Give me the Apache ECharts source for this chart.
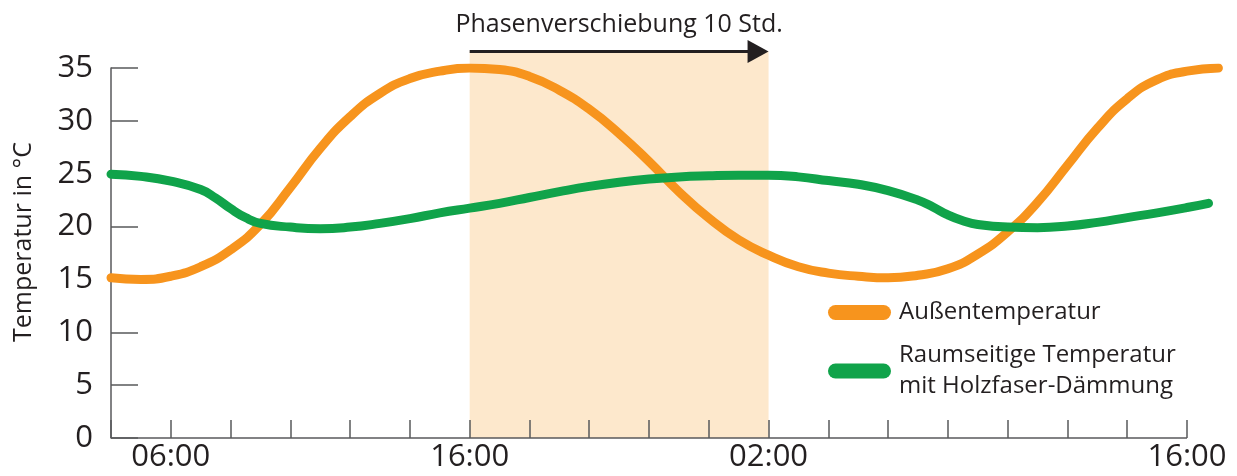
<!DOCTYPE html>
<html><head><meta charset="utf-8">
<script src="https://cdn.jsdelivr.net/npm/echarts@6/dist/echarts.min.js"></script>
<style>html,body{margin:0;padding:0;background:#fff}#c{width:1237px;height:476px}</style>
</head><body><div id="c"></div>
<script>
// hours since 04:00 of day 1
const hoursOut = [0,1,2,3,4,5,6,7,8,9,10,11,12,13,14,15,16,17,18,19,20,21,22,23,24,25,26,27,28,29,30,31,32,33,34,35,36,37.05];
const outsideTemp = [15.15,15.0,15.3,16.2,17.8,20.2,23.7,27.4,30.4,32.6,34.0,34.7,35.0,34.85,34.2,32.9,31.1,28.8,26.15,23.3,20.8,18.75,17.3,16.2,15.6,15.3,15.15,15.4,16.0,17.4,19.5,22.3,25.8,29.3,32.1,33.9,34.7,35.0];
const hoursIn = [0,1,2,3,3.5,4,4.5,5,6,7,8,9,10,11,12,13,14,15,16,17,18,19,20,21,22,23,24,25,26,27,27.5,28,28.5,29,30,31,32,33,34,35,36,36.72];
const insideTemp = [24.95,24.75,24.3,23.5,22.7,21.7,20.85,20.3,19.95,19.8,19.95,20.3,20.75,21.3,21.75,22.2,22.75,23.3,23.8,24.2,24.5,24.7,24.8,24.85,24.85,24.7,24.35,24.0,23.4,22.5,21.85,21.1,20.55,20.2,19.95,19.9,20.05,20.4,20.85,21.3,21.8,22.2];
const tickHours = [0,2,4,6,8,10,12,14,16,18,20,22,24,26,28,30,32,34,36];
const tickLabelHours = [2,12,22,36];
const tickLabels = ['06:00','16:00','02:00','16:00'];
const axisEndHour = 36;
const phaseStart = 12, phaseEnd = 22, phaseTop = 36.55;
const phaseLabel = 'Phasenverschiebung 10 Std.';
const nameOut = 'Außentemperatur';
const nameIn = 'Raumseitige Temperatur\nmit Holzfaser-Dämmung';

const FONT = '"Open Sans", "Noto Sans", sans-serif';
const TXT = '#231f20';
const AX = '#58595b';
const pill = 'path://M7.5,0 L55.5,0 A7.5,7.5 0 0 1 55.5,15 L7.5,15 A7.5,7.5 0 0 1 7.5,0 Z';

const chart = echarts.init(document.getElementById('c'), null, {renderer: 'canvas'});
chart.setOption({
  animation: false,
  backgroundColor: '#fff',
  textStyle: {fontFamily: FONT},
  grid: {left: 111, right: 17.1, top: 68, bottom: 38, containLabel: false},
  legend: {
    orient: 'vertical', left: 823, top: 292, itemGap: 12,
    itemWidth: 63, itemHeight: 15, selectedMode: false,
    data: [{name: nameOut, icon: pill}, {name: nameIn, icon: pill}],
    textStyle: {fontSize: 24, lineHeight: 31, color: TXT, fontFamily: FONT, padding: [0,0,0,3]}
  },
  xAxis: {
    type: 'value', min: 0, max: 37.1, z: 2,
    axisLine: {show: false},
    axisTick: {show: true, inside: true, length: 18, customValues: tickHours, lineStyle: {color: AX, width: 1.5}},
    splitLine: {show: false},
    axisLabel: {
      fontSize: 31, color: TXT, margin: 4, fontFamily: FONT, customValues: tickLabelHours,
      formatter: v => { const i = tickLabelHours.indexOf(v); return i >= 0 ? tickLabels[i] : ''; }
    }
  },
  yAxis: {
    type: 'value', min: 0, max: 35, interval: 5, z: 2,
    name: 'Temperatur in °C', nameLocation: 'middle', nameGap: 75,
    nameTextStyle: {fontSize: 25, color: TXT, fontFamily: FONT, padding: [0,0,0,22]},
    axisLine: {show: true, lineStyle: {color: AX, width: 1.5}},
    axisTick: {show: true, inside: true, length: 27, lineStyle: {color: AX, width: 1.5}},
    splitLine: {show: false},
    axisLabel: {fontSize: 31, color: TXT, margin: 18, fontFamily: FONT}
  },
  series: [
    {
      type: 'custom', silent: true, z: 1,
      data: [[phaseStart, phaseEnd, phaseTop]],
      renderItem: function (params, api) {
        const p0 = api.coord([api.value(0), 0]);
        const p1 = api.coord([api.value(1), api.value(2)]);
        const a0 = api.coord([0, 0]);
        const a1 = api.coord([axisEndHour, 0]);
        const y = p1[1];
        const head = 21, hh = 11.5;
        return {type: 'group', children: [
          {type: 'rect', shape: {x: p0[0], y: y, width: p1[0] - p0[0], height: p0[1] - y}, style: {fill: '#fde8cc'}},
          {type: 'line', shape: {x1: a0[0], y1: a0[1], x2: a1[0], y2: a1[1]}, style: {stroke: AX, lineWidth: 1.5}},
          {type: 'line', shape: {x1: p0[0], y1: y, x2: p1[0] - head + 2, y2: y}, style: {stroke: '#231f20', lineWidth: 3}},
          {type: 'polygon', shape: {points: [[p1[0] - head, y - hh], [p1[0], y], [p1[0] - head, y + hh]]}, style: {fill: '#231f20'}},
          {type: 'text', x: (p0[0] + p1[0]) / 2, y: y - 27, style: {text: phaseLabel, fill: TXT, font: '25px ' + FONT, align: 'center', verticalAlign: 'middle'}}
        ]};
      }
    },
    {
      name: nameOut, type: 'line', smooth: 0.5, symbol: 'none', z: 3,
      color: '#f7941d',
      lineStyle: {width: 9, color: '#f7941d', cap: 'round'},
      data: hoursOut.map((h, i) => [h, outsideTemp[i]])
    },
    {
      name: nameIn, type: 'line', smooth: 0.5, symbol: 'none', z: 4,
      color: '#10a34a',
      lineStyle: {width: 9, color: '#10a34a', cap: 'round'},
      data: hoursIn.map((h, i) => [h, insideTemp[i]])
    }
  ]
});
</script></body></html>
